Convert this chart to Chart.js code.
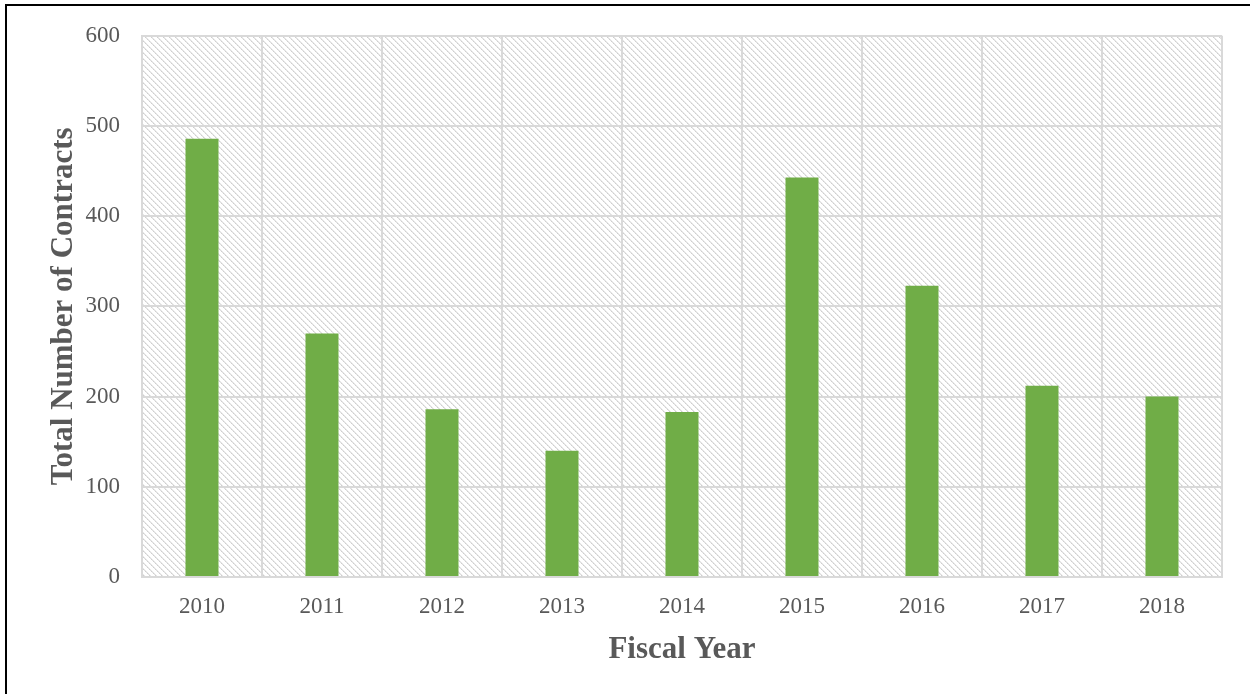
<!DOCTYPE html>
<html>
<head>
<meta charset="utf-8">
<script src="https://cdn.jsdelivr.net/npm/chart.js@4.4.0/dist/chart.umd.min.js"></script>
<style>
  html, body { margin: 0; padding: 0; background: #fff; }
  .wrap { position: relative; width: 1250px; height: 694px; }
  .frame { position: absolute; left: 5px; top: 4px; right: 0; bottom: 0; border-left: 2px solid #000; border-top: 2px solid #000; pointer-events: none; }
  canvas { position: absolute; left: 0; top: 0; }
</style>
</head>
<body>
<div class="wrap">
  <canvas id="chart" width="1250" height="694"></canvas>
  <div class="frame"></div>
</div>
<script>
const years = ['2010', '2011', '2012', '2013', '2014', '2015', '2016', '2017', '2018'];
const contracts = [486, 270, 186, 140, 183, 443, 323, 212, 200];
const yTicks = [0, 100, 200, 300, 400, 500, 600];

const gray = '#595959';
const gridColor = '#d9d9d9';

// diagonal hatch for the plot area
const makeHatch = (ctx) => {
  const tile = document.createElement('canvas');
  tile.width = 6;
  tile.height = 6;
  const t = tile.getContext('2d');
  t.fillStyle = '#fff';
  t.fillRect(0, 0, 6, 6);
  for (let i = 0; i < 6; i++) {
    t.fillStyle = i % 2 ? '#cfcfcf' : '#dedede';
    t.fillRect(i, i, 1, 1);
    t.fillStyle = '#e8e8e8';
    t.fillRect((i + 1) % 6, i, 1, 1);
  }
  return ctx.createPattern(tile, 'repeat');
};

const hatchPlugin = {
  id: 'hatch',
  beforeDraw(chart) {
    const { ctx, chartArea: a } = chart;
    ctx.save();
    ctx.fillStyle = makeHatch(ctx);
    ctx.fillRect(a.left, a.top, a.right - a.left, a.bottom - a.top);
    ctx.restore();
  },
};

const ctx = document.getElementById('chart').getContext('2d');

const chart = new Chart(ctx, {
  type: 'bar',
  data: {
    labels: years,
    datasets: [{
      label: 'Total Number of Contracts',
      data: contracts,
      backgroundColor: '#70ad47',
      borderWidth: 0,
      barPercentage: 0.275,
      categoryPercentage: 1,
    }],
  },
  options: {
    responsive: false,
    animation: false,
    layout: {
      padding: { left: 0, top: 34, right: 28, bottom: 0 },
    },
    plugins: {
      legend: { display: false },
      tooltip: { enabled: false },
    },
    scales: {
      x: {
        offset: true,
        grid: { color: gridColor, lineWidth: 2, drawTicks: false, offset: true },
        border: { color: gridColor, width: 2 },
        ticks: {
          color: gray,
          padding: 16,
          font: { family: 'Liberation Serif', size: 23 },
        },
        title: {
          display: true,
          text: 'Fiscal Year',
          color: gray,
          padding: { top: 0, bottom: 25 },
          font: { family: 'Liberation Serif', size: 31, weight: 'bold' },
        },
        afterFit(scale) { scale.height = 117; },
      },
      y: {
        min: 0,
        max: 600,
        afterBuildTicks(scale) { scale.ticks = yTicks.map((v) => ({ value: v })); },
        grid: { color: gridColor, lineWidth: 2, drawTicks: false },
        border: { color: gridColor, width: 2 },
        ticks: {
          color: gray,
          padding: 22,
          font: { family: 'Liberation Serif', size: 23 },
        },
        title: {
          display: true,
          text: 'Total Number of Contracts',
          color: gray,
          padding: { top: 45, bottom: 0 },
          font: { family: 'Liberation Serif', size: 31, weight: 'bold' },
        },
        afterFit(scale) { scale.width = 142; },
      },
    },
  },
  plugins: [hatchPlugin],
});
</script>
</body>
</html>
